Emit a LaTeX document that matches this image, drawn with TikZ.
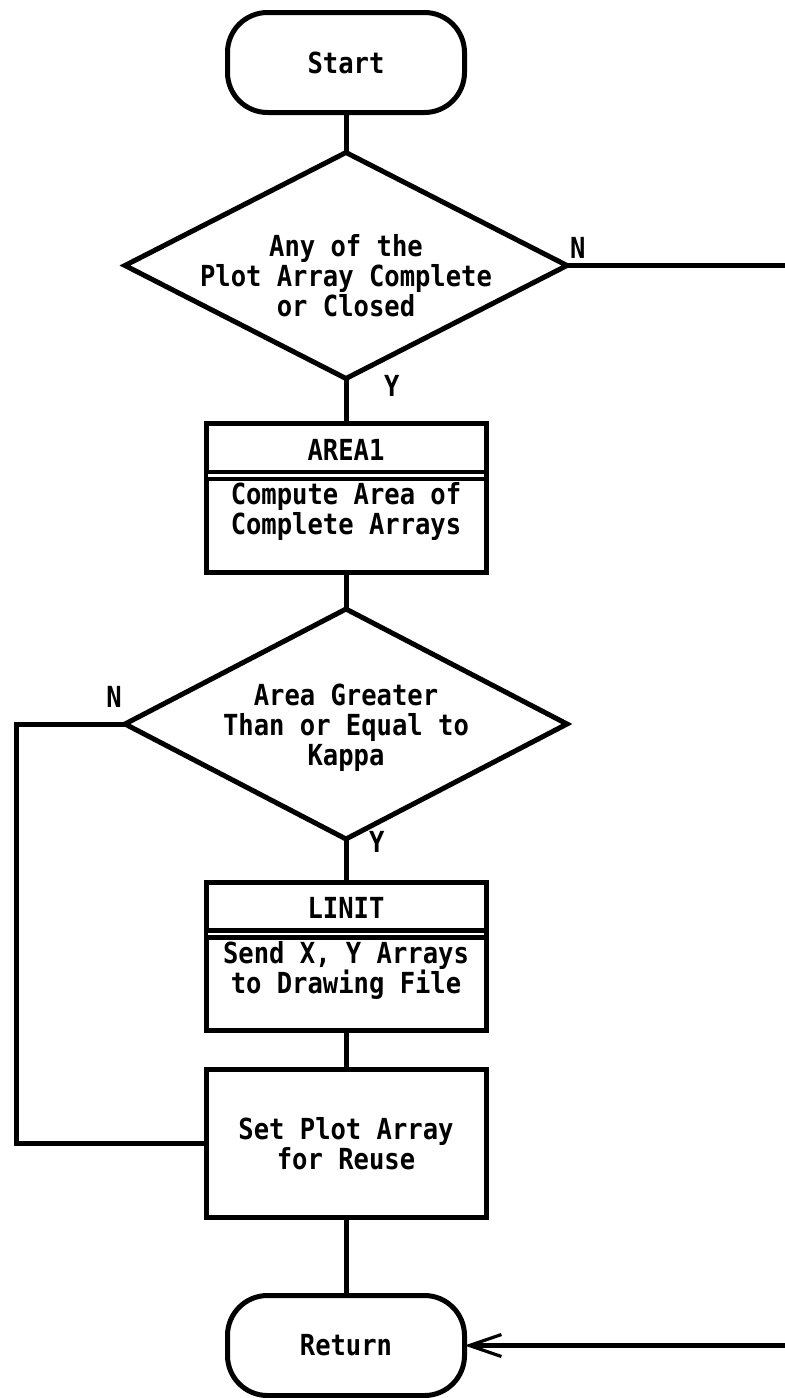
\documentclass[tikz,border=0pt]{standalone}
\usepackage{fontspec}
\usepackage{tikz}
\usetikzlibrary{positioning, shapes.geometric, arrows.meta, calc}
\newfontfamily\flowfont{DejaVu Sans Mono}[FakeStretch=0.88]

\begin{document}
\begin{tikzpicture}[
    node distance=20pt,
    >={Straight Barb[length=16pt, width=11pt, line width=1.6pt]},
    every node/.style={outer sep=0pt},
    txt/.style={font=\flowfont\bfseries\fontsize{14.5pt}{15pt}\selectfont},
    term/.style={
        txt, rectangle, rounded corners=20pt,
        minimum width=118.5pt, minimum height=50pt,
        draw=black, line width=2.5pt, fill=white
    },
    decision/.style={
        txt, diamond, aspect=2, inner sep=-6pt,
        minimum width=221pt, minimum height=113pt,
        draw=black, line width=2.5pt, align=center
    },
    hdr/.style={
        txt, rectangle,
        minimum width=140pt, minimum height=26pt,
        draw=black, line width=2.5pt
    },
    proc/.style={
        txt, rectangle,
        minimum width=140pt, minimum height=74pt,
        draw=black, line width=2.5pt, align=center
    },
    body/.style={proc, minimum height=48.25pt, inner ysep=2pt, text depth=15pt},
    link/.style={draw=black, line width=2.5pt},
    dbl/.style={double, double distance=1.3pt, line width=2.3pt,
        shorten <=1.2pt, shorten >=1.2pt},
    lbl/.style={txt, inner sep=3pt},
]
\useasboundingbox (0,0) rectangle (392.5pt,-699pt);
\coordinate (edge) at (392.5pt,0);
\coordinate (wall) at (8pt,0);

% Main column
\node[term] (start) at (173pt,-31.25pt) {Start};
\node[decision, below=20pt of start] (d1) {\rule{0pt}{21.5pt}Any of the\\Plot Array Complete\\or Closed};
\node[hdr, below=22.5pt of d1] (areahd) {AREA1};
\node[body, below=0pt of areahd] (areabody) {Compute Area of\\Complete Arrays};
\node[decision, minimum height=115pt, below=18.5pt of areabody] (d2) {\rule{0pt}{15pt}Area Greater\\Than or Equal to\\Kappa};
\node[hdr, below=21.5pt of d2] (linithd) {LINIT};
\node[body, below=0pt of linithd] (linitbody) {Send X, Y Arrays\\to Drawing File};
\node[proc, below=19.5pt of linitbody] (setplot) {Set Plot Array\\for Reuse};
\node[term, below=39pt of setplot] (ret) {Return};

% Double rules under the headers
\draw[dbl] (areahd.south west) -- (areahd.south east);
\draw[dbl] (linithd.south west) -- (linithd.south east);

% Straight flow
\draw[link] (start) -- (d1);
\draw[link] (d1.south) -- node[lbl, pos=0.17, right=16pt] {Y} (areahd.north);
\draw[link] (areabody) -- (d2);
\draw[link] (d2.south) -- node[lbl, pos=0.07, right=8.5pt] {Y} (linithd.north);
\draw[link] (linitbody) -- (setplot);
\draw[link] (setplot) -- (ret);

% No branches
\draw[link] (d1.east) -- node[lbl, pos=0.05, above=0.7pt] {N} (d1.east -| edge);
\draw[link] (d2.west) -- node[lbl, pos=0.1, above=5.2pt] {N} (d2.west -| wall) |- (setplot.west);
\draw[link, ->] (ret.east -| edge) -- (ret.east);

\end{tikzpicture}
\end{document}
